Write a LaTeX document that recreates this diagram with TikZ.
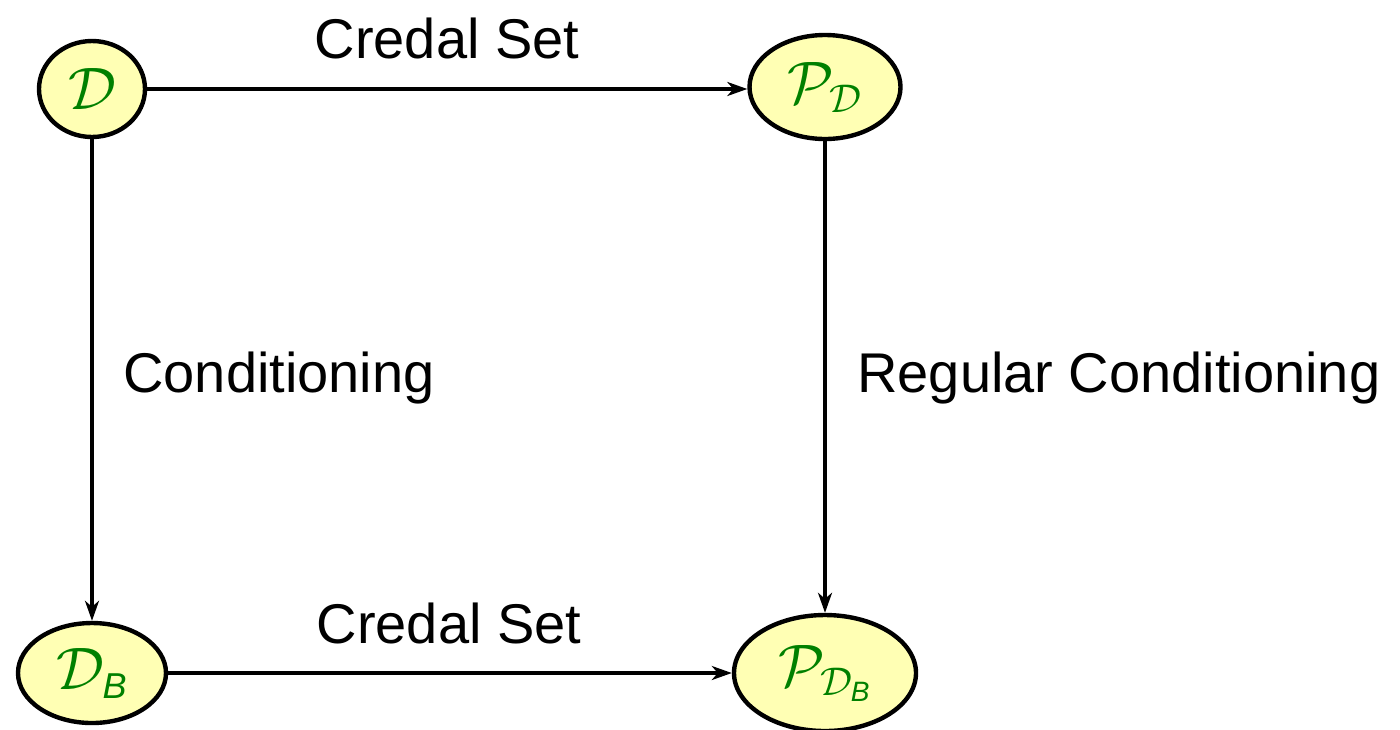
\documentclass[tikz,border=0pt]{standalone}
\usepackage{fontspec}
\setmainfont{Liberation Sans}
\DeclareFontShape{OMS}{cmsy}{m}{n}{<-6>cmsy5<6-8>cmsy7<8->cmsy10}{}
\usetikzlibrary{arrows.meta,shapes.geometric}
\definecolor{nodefill}{RGB}{255,255,180}
\definecolor{mathgreen}{RGB}{0,128,0}
\DeclareMathSizes{30}{30}{20}{14}
\newcommand{\subB}[1]{\mbox{\fontsize{#1}{#1}\selectfont\itshape B}}
\begin{document}
\begin{tikzpicture}[x=0.5pt,y=-0.5pt,
  every node/.style={font=\fontsize{28}{34}\selectfont},
  state/.style={ellipse,draw=black,line width=2.2pt,fill=nodefill,inner sep=0pt,text=mathgreen,font=\fontsize{30}{36}\selectfont},
  conn/.style={line width=1.6pt,-{Stealth[length=10pt,width=7pt,inset=3pt]}},
  lbl/.style={text=black,inner sep=0pt}]
\useasboundingbox (0,0) rectangle (1400,729);
\node[state,minimum width=53pt,minimum height=48pt] (D) at (92,89) {$\mathcal{D}$};
\node[state,minimum width=75.5pt,minimum height=52pt] (PD) at (825,87) {$\mathcal{P}_{\mathcal{D}}$};
\node[state,minimum width=74pt,minimum height=50pt] (DB) at (92,673) {$\mathcal{D}_{\subB{18}}$};
\node[state,minimum width=91pt,minimum height=58pt] (PDB) at (825,673) {$\mathcal{P}_{\mathcal{D}_{\subB{14}}}$};
\draw[conn] (D.east) -- (PD.west |- D.east);
\draw[conn] (D.south) -- (DB.north);
\draw[conn] (PD.south) -- (PDB.north);
\draw[conn] (DB.east) -- (PDB.west);
\node[lbl,anchor=base] (l1) at (447,58) {Credal Set};
\node[lbl,anchor=base] (l2) at (449,643) {Credal Set};
\node[lbl,anchor=base west] (l3) at (123,392) {Conditioning};
\node[lbl,anchor=base west] (l4) at (857,392) {Regular Conditioning};
\end{tikzpicture}
\end{document}
